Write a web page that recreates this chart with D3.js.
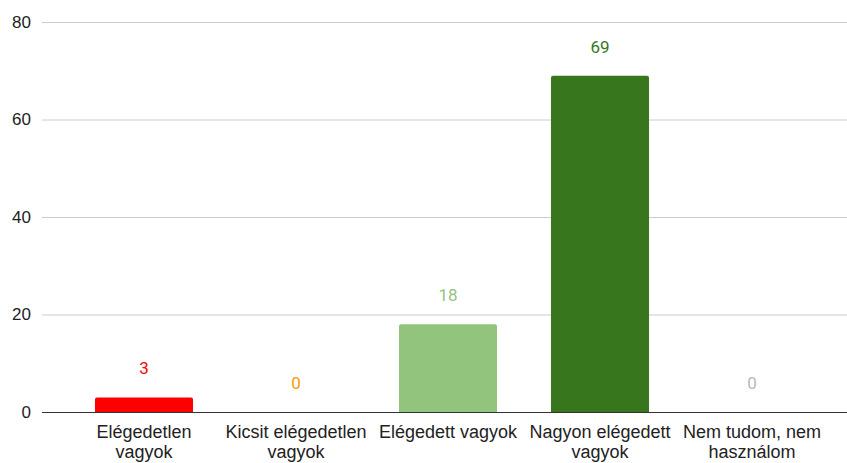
<!DOCTYPE html>
<html>
<head>
<meta charset="utf-8">
<script src="https://cdn.jsdelivr.net/npm/d3@7"></script>
<style>
  body { margin: 0; background: #fff; }
  svg { display: block; font-family: "Liberation Sans", Arial, sans-serif; }
</style>
</head>
<body>
<svg width="847" height="463"></svg>
<script>
// Chart data
const categories = [
  ["Elégedetlen", "vagyok"],
  ["Kicsit elégedetlen", "vagyok"],
  ["Elégedett vagyok"],
  ["Nagyon elégedett", "vagyok"],
  ["Nem tudom, nem", "használom"]
];
const values = [3, 0, 18, 69, 0];
const barColors = ["#ff0000", "#ff9900", "#93c47d", "#38761d", "#b7b7b7"];
const yTicks = [0, 20, 40, 60, 80];

const svg = d3.select("svg");

//   Scales
const x = d3.scaleBand()
  .domain(d3.range(values.length))
  .range([68, 828])
  .paddingInner(0.355)
  .paddingOuter(0.1775);

const y = d3.scaleLinear()
  .domain([0, 80])
  .range([412, 22]);

// Gridlines
svg.append("g")
  .selectAll("line")
  .data(yTicks.filter(t => t !== 0))
  .join("line")
  .attr("x1", 42)
  .attr("x2", 847)
  .attr("y1", d => y(d) + 0.5)
  .attr("y2", d => y(d) + 0.5)
  .attr("stroke", "#cccccc")
  .attr("stroke-width", 1);

// Y tick labels
svg.append("g")
  .selectAll("text")
  .data(yTicks)
  .join("text")
  .attr("x", 31)
  .attr("y", d => y(d))
  .attr("dy", "0.35em")
  .attr("text-anchor", "end")
  .attr("font-size", 17)
  .attr("fill", "#222")
  .text(d => d);

// Bars with slightly rounded tops
const barPath = (d, i) => {
  const x0 = x(i), w = x.bandwidth();
  const y0 = y(0), y1 = y(d);
  const r = Math.min(2, (y0 - y1) / 2);
  if (y0 - y1 <= 0) return "";
  return `M${x0},${y0} V${y1 + r} Q${x0},${y1} ${x0 + r},${y1} H${x0 + w - r} Q${x0 + w},${y1} ${x0 + w},${y1 + r} V${y0} Z`;
};

svg.append("g")
  .selectAll("path")
  .data(values)
  .join("path")
  .attr("d", barPath)
  .attr("fill", (d, i) => barColors[i]);

// Value labels
svg.append("g")
  .selectAll("text")
  .data(values)
  .join("text")
  .attr("x", (d, i) => x(i) + x.bandwidth() / 2)
  .attr("y", d => y(d) - 29)
  .attr("dy", "0.35em")
  .attr("text-anchor", "middle")
  .attr("font-family", "Roboto, sans-serif")
  .attr("font-size", 17)
  .attr("fill", (d, i) => barColors[i])
  .text(d => d);

// Baseline
svg.append("line")
  .attr("x1", 42)
  .attr("x2", 847)
  .attr("y1", y(0) + 0.5)
  .attr("y2", y(0) + 0.5)
  .attr("stroke", "#333")
  .attr("stroke-width", 1);

// Category labels
const catLabels = svg.append("g")
  .selectAll("text")
  .data(categories)
  .join("text")
  .attr("x", (d, i) => x(i) + x.bandwidth() / 2)
  .attr("y", 432)
  .attr("text-anchor", "middle")
  .attr("font-size", 18)
  .attr("fill", "#222");

catLabels.selectAll("tspan")
  .data(d => d)
  .join("tspan")
  .attr("x", function () { return d3.select(this.parentNode).attr("x"); })
  .attr("dy", (d, i) => i === 0 ? "0.35em" : "20px")
  .text(d => d);
</script>
</body>
</html>
